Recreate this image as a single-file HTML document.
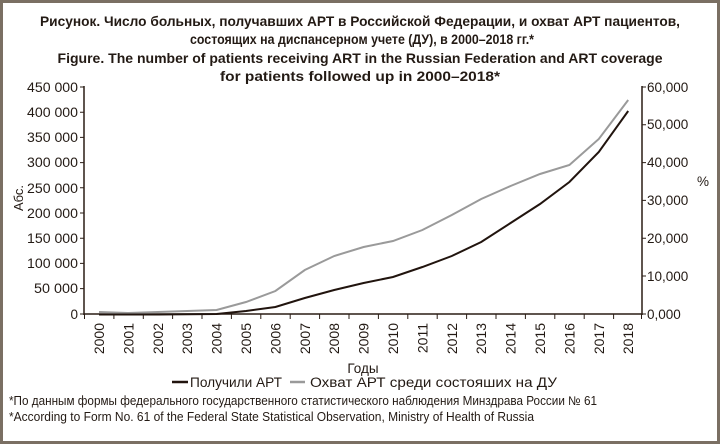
<!DOCTYPE html>
<html><head><meta charset="utf-8"><style>
html,body{margin:0;padding:0;background:#fff}
svg{display:block}
text{font-family:"Liberation Sans",sans-serif;fill:#231a14}
</style></head><body>
<svg width="720" height="444" viewBox="0 0 720 444">
<rect x="1.5" y="1.5" width="717" height="441" fill="#fff" stroke="#7a6f63" stroke-width="3"/>
<g font-weight="bold" font-size="14" text-anchor="middle">
<text x="360" y="26" textLength="640" lengthAdjust="spacingAndGlyphs">Рисунок. Число  больных, получавших АРТ в Российской Федерации, и охват АРТ пациентов,</text>
<text x="362" y="44" textLength="344" lengthAdjust="spacingAndGlyphs">состоящих на диспансерном учете (ДУ),  в 2000–2018 гг.*</text>
<text x="360" y="63" textLength="605" lengthAdjust="spacingAndGlyphs">Figure. The number of patients receiving ART in the Russian Federation and ART coverage</text>
<text x="360" y="81" textLength="280" lengthAdjust="spacingAndGlyphs">for patients followed up in 2000–2018*</text>
</g>
<g stroke="#2a1d15" stroke-width="1.5" fill="none">
<line x1="84" y1="86" x2="84" y2="315"/>
<line x1="642" y1="86" x2="642" y2="315"/>
<line x1="84" y1="314" x2="642" y2="314"/>
</g>
<g stroke="#2a1d15" stroke-width="1">
<path d="M80 87h4M80 112.2h4M80 137.4h4M80 162.6h4M80 187.8h4M80 213h4M80 238.2h4M80 263.4h4M80 288.6h4M80 314h4"/>
<path d="M642 87h4M642 124.8h4M642 162.6h4M642 200.4h4M642 238.2h4M642 276h4M642 314h4"/>
<path d="M84.5 314v5M113.9 314v5M143.3 314v5M172.6 314v5M202 314v5M231.4 314v5M260.8 314v5M290.2 314v5M319.6 314v5M349 314v5M378.4 314v5M407.8 314v5M437.2 314v5M466.6 314v5M496 314v5M525.4 314v5M554.8 314v5M584.2 314v5M613.6 314v5M641.5 314v5"/>
</g>
<g font-size="13.5" text-anchor="end">
<text x="78" y="92" textLength="51" lengthAdjust="spacingAndGlyphs">450 000</text><text x="78" y="117" textLength="51" lengthAdjust="spacingAndGlyphs">400 000</text><text x="78" y="142" textLength="51" lengthAdjust="spacingAndGlyphs">350 000</text>
<text x="78" y="167" textLength="51" lengthAdjust="spacingAndGlyphs">300 000</text><text x="78" y="193" textLength="51" lengthAdjust="spacingAndGlyphs">250 000</text><text x="78" y="218" textLength="51" lengthAdjust="spacingAndGlyphs">200 000</text>
<text x="78" y="243" textLength="51" lengthAdjust="spacingAndGlyphs">150 000</text><text x="78" y="268" textLength="51" lengthAdjust="spacingAndGlyphs">100 000</text><text x="78" y="293" textLength="44" lengthAdjust="spacingAndGlyphs">50 000</text>
<text x="78" y="319">0</text>
</g>
<g font-size="13.5">
<text x="647" y="92">60,000</text><text x="647" y="129">50,000</text><text x="647" y="167">40,000</text>
<text x="647" y="205">30,000</text><text x="647" y="243">20,000</text><text x="647" y="281">10,000</text>
<text x="647" y="319">0,000</text>
<text x="697" y="186">%</text>
</g>
<text transform="translate(23,198) rotate(-90)" font-size="13" text-anchor="middle">Абс.</text>
<g font-size="14" text-anchor="end">
<text transform="translate(104,323) rotate(-90)">2000</text>
<text transform="translate(133.4,323) rotate(-90)">2001</text>
<text transform="translate(162.8,323) rotate(-90)">2002</text>
<text transform="translate(192.2,323) rotate(-90)">2003</text>
<text transform="translate(221.6,323) rotate(-90)">2004</text>
<text transform="translate(251,323) rotate(-90)">2005</text>
<text transform="translate(280.4,323) rotate(-90)">2006</text>
<text transform="translate(309.8,323) rotate(-90)">2007</text>
<text transform="translate(339.2,323) rotate(-90)">2008</text>
<text transform="translate(368.6,323) rotate(-90)">2009</text>
<text transform="translate(398,323) rotate(-90)">2010</text>
<text transform="translate(427.4,323) rotate(-90)">2011</text>
<text transform="translate(456.8,323) rotate(-90)">2012</text>
<text transform="translate(486.2,323) rotate(-90)">2013</text>
<text transform="translate(515.6,323) rotate(-90)">2014</text>
<text transform="translate(545,323) rotate(-90)">2015</text>
<text transform="translate(574.4,323) rotate(-90)">2016</text>
<text transform="translate(603.8,323) rotate(-90)">2017</text>
<text transform="translate(633.2,323) rotate(-90)">2018</text>
</g>
<text x="363" y="373" font-size="13.5" text-anchor="middle">Годы</text>
<polyline fill="none" stroke="#9a9a9a" stroke-width="2" points="99,312 128.4,313 157.8,312 187.2,311 216.6,310 246,302 275.4,291 304.8,270 334.2,256 363.6,247 393,241 422.4,230 451.8,215 481.2,199 510.6,186 540,174 569.4,165 598.8,139 628.2,100"/>
<polyline fill="none" stroke="#21140e" stroke-width="2" points="99,314.5 128.4,314.5 157.8,314.5 187.2,314.3 216.6,314 246,311 275.4,307 304.8,298 334.2,290 363.6,283 393,277 422.4,267 451.8,256 481.2,242 510.6,223 540,204 569.4,182 598.8,152 628.2,111"/>
<line x1="172" y1="382" x2="188" y2="382" stroke="#21140e" stroke-width="2.5"/>
<text x="190" y="387" font-size="13.5" textLength="92" lengthAdjust="spacingAndGlyphs">Получили АРТ</text>
<line x1="290" y1="382" x2="305" y2="382" stroke="#9a9a9a" stroke-width="2.5"/>
<text x="310" y="387" font-size="13.5" textLength="247" lengthAdjust="spacingAndGlyphs">Охват АРТ среди состояших на ДУ</text>
<text x="9" y="405" font-size="12.5" textLength="588" lengthAdjust="spacingAndGlyphs">*По данным формы федерального государственного статистического наблюдения Минздрава России № 61</text>
<text x="9" y="421" font-size="12.5" textLength="525" lengthAdjust="spacingAndGlyphs">*According to Form No. 61 of the Federal State Statistical Observation, Ministry of Health of Russia</text>
</svg>
</body></html>
